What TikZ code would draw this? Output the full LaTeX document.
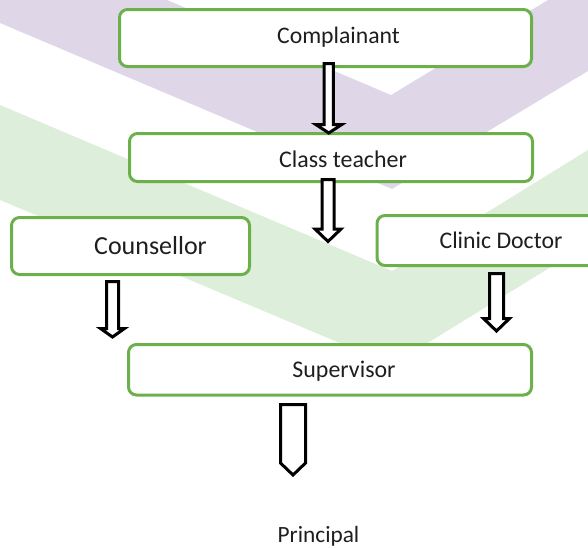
\documentclass[tikz,border=0pt]{standalone}
\usepackage{fontspec}
\setmainfont{Carlito}
\definecolor{bandpurple}{HTML}{DFD7E8}
\definecolor{bandgreen}{HTML}{DDEEDA}
\definecolor{boxgreen}{HTML}{6CB04C}
\definecolor{txt}{HTML}{1E1E1E}
\tikzset{
  box/.style={draw=boxgreen, line width=3pt, rounded corners=8pt, fill=white, inner sep=0pt},
  lbl/.style={inner sep=0pt, anchor=base, text=txt},
  barrow/.style={draw=black, line width=3pt, fill=white, line join=miter},
}
% block arrow: x centre, y top, y head base, y tip, shaft half width, head half width
\newcommand\blockarr[6]{%
  \draw[barrow] ({#1-#5},#2) -- ({#1+#5},#2) -- ({#1+#5},#3) -- ({#1+#6},#3)
    -- (#1,#4) -- ({#1-#6},#3) -- ({#1-#5},#3) -- cycle;}
\begin{document}
\begin{tikzpicture}[x=1pt,y=-1pt]
\useasboundingbox (0,0) rectangle (588,547);
\begin{scope}
\clip (0,0) rectangle (588,547);
% background bands
\fill[bandpurple] (0,0) -- (167,0) -- (391,95) -- (548,0) -- (588,0) -- (588,71)
  -- (392,189) -- (0,23) -- cycle;
\fill[bandgreen] (0,105) -- (392,271) -- (588,150) -- (588,244) -- (392,365)
  -- (0,200) -- cycle;
% boxes
\node[box, minimum width=412pt, minimum height=57pt] (comp) at (325.5,38) {};
\node[box, minimum width=403pt, minimum height=48pt] (class) at (331,157.5) {};
\node[box, minimum width=238pt, minimum height=57pt] (couns) at (130.5,246) {};
\node[box, minimum width=240pt, minimum height=50pt, anchor=west] (clinic) at (375.5,240.5) {};
\node[box, minimum width=403pt, minimum height=50.5pt] (sup) at (330,369.75) {};
\end{scope}
% labels
\node[lbl, font=\fontsize{23.7}{28}\selectfont] (tcomp) at (338.5,43) {Complainant};
\node[lbl, font=\fontsize{23.9}{28}\selectfont] (tclass) at (343,167) {Class teacher};
\node[lbl, font=\fontsize{26}{30}\selectfont] (tcouns) at (150.5,254) {Counsellor};
\node[lbl, font=\fontsize{23.8}{28}\selectfont] (tclinic) at (501,248) {Clinic Doctor};
\node[lbl, font=\fontsize{23.9}{28}\selectfont] (tsup) at (344,377) {Supervisor};
\node[lbl, font=\fontsize{23.3}{28}\selectfont] (tprin) at (318.5,542.5) {Principal};
% block arrows
\blockarr{328.8}{63.5}{124.5}{133}{4.6}{13}
\blockarr{328}{179.5}{229}{241.5}{6}{13}
\blockarr{112.5}{281.5}{328.5}{337}{6}{12}
\blockarr{496.5}{273.5}{318.5}{331}{7}{13}
\begin{scope}[line width=3.5pt]
\blockarr{293}{404.5}{463}{475}{12.5}{12.5}
\end{scope}
\end{tikzpicture}
\end{document}
